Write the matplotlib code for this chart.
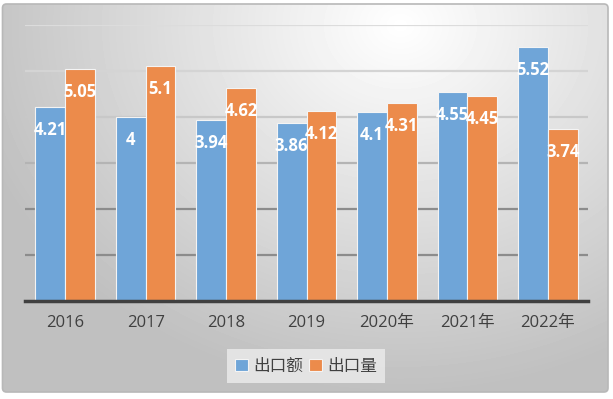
import numpy as np
import matplotlib
matplotlib.use("Agg")
import matplotlib.pyplot as plt
from matplotlib.patches import FancyBboxPatch

# dati
anni = ["2016", "2017", "2018", "2019", "2020年", "2021年", "2022年"]
export_value = [4.21, 4.00, 3.94, 3.86, 4.10, 4.55, 5.52]
export_volume = [5.05, 5.10, 4.62, 4.12, 4.31, 4.45, 3.74]
value_labels = ["4.21", "4", "3.94", "3.86", "4.1", "4.55", "5.52"]
volume_labels = ["5.05", "5.1", "4.62", "4.12", "4.31", "4.45", "3.74"]
series_names = ["出口额", "出口量"]

W, H = 613, 399
fig = plt.figure(figsize=(W / 100, H / 100), dpi=100)
fig.patch.set_facecolor("white")

# sfondo con gradiente radiale
bg = fig.add_axes([0, 0, 1, 1])
bg.set_xlim(0, W)
bg.set_ylim(H, 0)
bg.axis("off")
yy, xx = np.mgrid[0:H, 0:W]
r = np.sqrt(((xx - 400) / 480) ** 2 + ((yy - 25) / 400) ** 2)
grad = np.clip(1.0 - 0.27 * r, 0.75, 1.0)
img = bg.imshow(grad, cmap="gray", vmin=0, vmax=1, extent=(0, W, H, 0),
                interpolation="bilinear", zorder=0)
frame = FancyBboxPatch((2.5, 4), 605.5, 388, boxstyle="round,pad=0,rounding_size=4",
                       facecolor="none", edgecolor="#b8b8b8", linewidth=1.2, zorder=1)
bg.add_patch(frame)
img.set_clip_path(frame)

ax = fig.add_axes([25 / W, 1 - 301 / H, (588 - 25) / W, (301 - 25) / H])
ax.patch.set_alpha(0)
x = np.arange(len(anni))
bw = 0.37
blue = "#6fa5d8"
orange = "#ec8b4b"
b1 = ax.bar(x - bw / 2, export_value, bw, color=blue, edgecolor="#f4f4f4", linewidth=0.8,
            label=series_names[0], zorder=3)
b2 = ax.bar(x + bw / 2, export_volume, bw, color=orange, edgecolor="#f4f4f4", linewidth=0.8,
            label=series_names[1], zorder=3)

ax.set_xlim(-0.5, len(anni) - 0.5)
ax.set_ylim(0, 6)
ax.set_yticks([])

# griglia: più chiara in alto
grid_cols = ["#8c8c8c", "#8c8c8c", "#b4b4b4", "#c8c8c8", "#d4d4d4", "#dcdcdc"]
for k, gy in enumerate(range(1, 7)):
    ax.axhline(gy, color=grid_cols[k], linewidth=1.6, zorder=1)

for s in ["top", "right", "left"]:
    ax.spines[s].set_visible(False)
ax.spines["bottom"].set_color("#404040")
ax.spines["bottom"].set_linewidth(2.5)
ax.spines["bottom"].set_zorder(4)

ax.set_xticks(x)
ax.set_xticklabels(anni)
ax.tick_params(axis="x", length=0, pad=10)
for t in ax.get_xticklabels():
    t.set_fontfamily(["Open Sans", "Noto Sans CJK SC"])
    t.set_fontsize(12)
    t.set_color("#404040")

for bars, labs in [(b1, value_labels), (b2, volume_labels)]:
    for rect, lab in zip(bars, labs):
        ax.annotate(lab, (rect.get_x() + rect.get_width() / 2, rect.get_height()),
                    xytext=(0, -16.5), textcoords="offset points", ha="center", va="center",
                    color="white", fontweight="bold", fontsize=12,
                    family=["Open Sans", "DejaVu Sans"], zorder=5)

leg = fig.legend(loc="center", bbox_to_anchor=(306 / W, 1 - 366 / H), ncol=2,
                 frameon=True, fancybox=False, handlelength=0.75, handleheight=0.75,
                 handletextpad=0.3, columnspacing=0.4, borderpad=0.5,
                 prop={"family": ["Noto Sans CJK SC", "DejaVu Sans"], "size": 12})
leg.get_frame().set_facecolor("#ececec")
leg.get_frame().set_edgecolor("none")
leg.get_frame().set_alpha(0.8)
for t in leg.get_texts():
    t.set_color("#404040")

fig.savefig("out.png", dpi=100)
